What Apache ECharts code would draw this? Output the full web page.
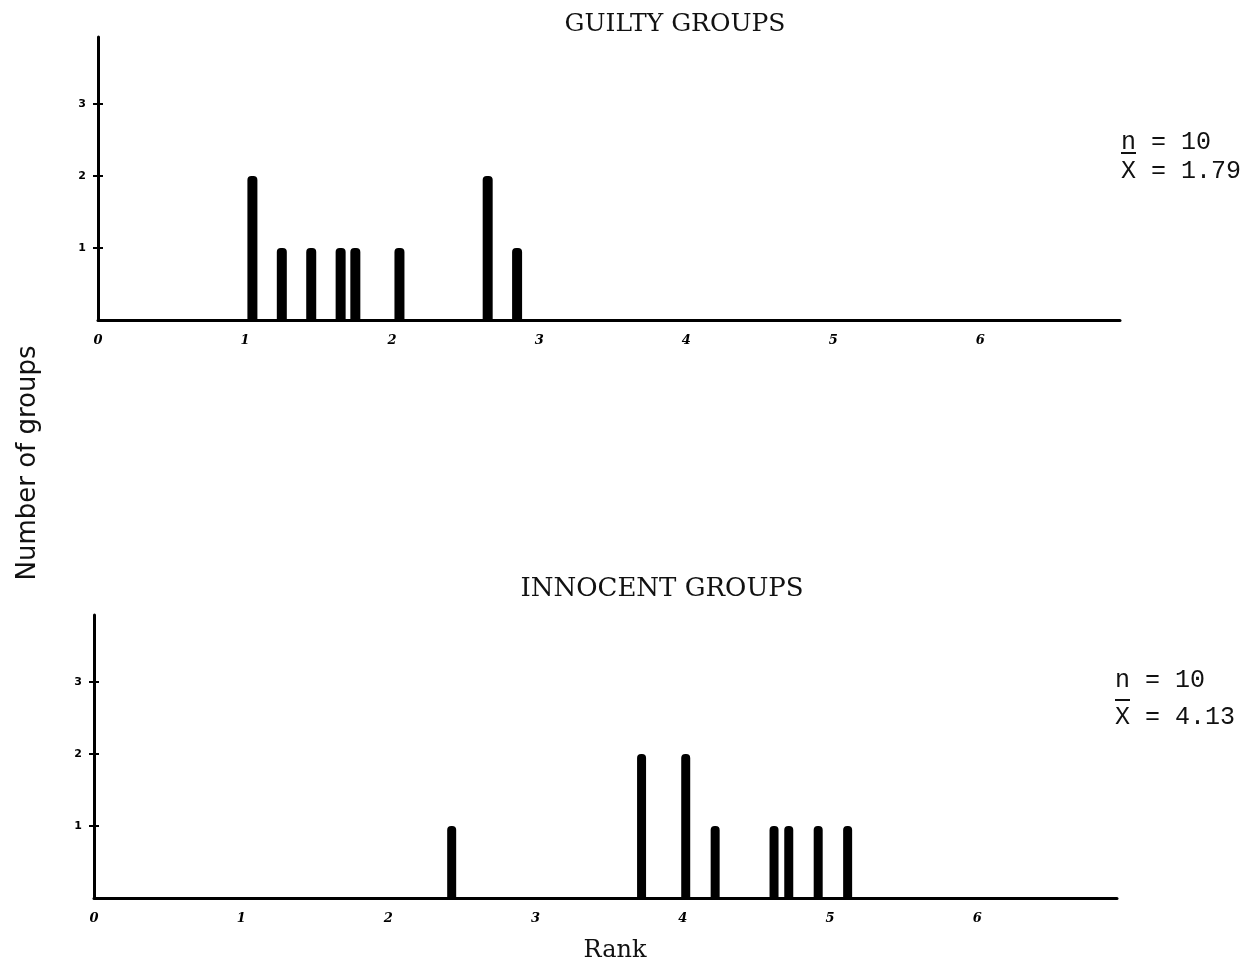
<!DOCTYPE html>
<html>
<head>
<meta charset="utf-8">
<script src="https://cdn.jsdelivr.net/npm/echarts@6/dist/echarts.min.js"></script>
<style>
html,body{margin:0;padding:0;background:#fff;}
#chart{width:1252px;height:966px;}
</style>
</head>
<body>
<div id="chart"></div>
<script>
// ---- data ----
var guiltyRanks  = [1.05, 1.25, 1.45, 1.65, 1.75, 2.05, 2.65, 2.85];
var guiltyCounts = [2, 1, 1, 1, 1, 1, 2, 1];
var innocentRanks  = [2.43, 3.72, 4.02, 4.22, 4.62, 4.72, 4.92, 5.12];
var innocentCounts = [1, 2, 2, 1, 1, 1, 1, 1];
var xTicks = [0, 1, 2, 3, 4, 5, 6];
var yTicks = [1, 2, 3];
var titles = ['GUILTY GROUPS', 'INNOCENT GROUPS'];
var statsN = ['n = 10', 'n = 10'];
var statsMean = ['X = 1.79', 'X = 4.13'];

function pairs(xs, ys){ return xs.map(function(x,i){ return [x, ys[i]]; }); }

var chart = echarts.init(document.getElementById('chart'));

function xAx(g){
  return {
    type:'value', gridIndex:g, min:0, max:6.95,
    splitLine:{show:false},
    axisLine:{show:true, onZero:false, lineStyle:{color:'#000', width:3}},
    axisTick:{show:false},
    axisLabel:{customValues:xTicks, margin:14, color:'#000', fontFamily:'DejaVu Serif',
      fontStyle:'italic', fontWeight:'bold', fontSize:13}
  };
}
function yAx(g, inside){
  return {
    type:'value', gridIndex:g, min:0, max:3.93, position:'left', offset:0,
    splitLine:{show:false},
    axisLine:{show:!inside, onZero:false, lineStyle:{color:'#000', width:3}},
    axisTick:{show:true, inside:inside, length:5, customValues:yTicks, lineStyle:{color:'#000', width:2}},
    axisLabel:{show:!inside, customValues:yTicks, margin:12, color:'#000', fontFamily:'DejaVu Sans',
      fontWeight:'bold', fontSize:11}
  };
}

var barStyle = {color:'#000', borderRadius:[4,4,0,0]};

var option = {
  backgroundColor:'#fff',
  animation:false,
  grid:[
    {left:98, top:37, width:1022, height:283},
    {left:94, top:615, width:1023, height:283}
  ],
  xAxis:[xAx(0), xAx(1)],
  yAxis:[yAx(0,false), yAx(1,false), yAx(0,true), yAx(1,true)],
  series:[
    {type:'bar', xAxisIndex:0, yAxisIndex:0, barWidth:10, itemStyle:barStyle, data:pairs(guiltyRanks, guiltyCounts)},
    {type:'bar', xAxisIndex:1, yAxisIndex:1, barWidth:9, itemStyle:barStyle, data:pairs(innocentRanks, innocentCounts)}
  ],
  graphic:[
    {type:'text', style:{text:titles[0], x:675, y:24, align:'center', verticalAlign:'middle',
      font:'25px "DejaVu Serif"', fill:'#111'}},
    {type:'text', style:{text:titles[1], x:662, y:589, align:'center', verticalAlign:'middle',
      font:'26px "DejaVu Serif"', fill:'#111'}},
    {type:'text', style:{text:'Rank', x:615, y:951, align:'center', verticalAlign:'middle',
      font:'24px "DejaVu Serif"', fill:'#111'}},
    {type:'text', rotation:Math.PI/2, x:28, y:463, style:{text:'Number of groups', x:0, y:0, align:'center', verticalAlign:'middle',
      font:'500 26px "DejaVu Sans"', fill:'#111'}},
    {type:'text', style:{text:statsN[0], x:1121, y:142, verticalAlign:'middle', font:'25px "Liberation Mono"', fill:'#111'}},
    {type:'text', style:{text:statsMean[0], x:1121, y:171, verticalAlign:'middle', font:'25px "Liberation Mono"', fill:'#111'}},
    {type:'line', shape:{x1:1121, y1:153, x2:1136, y2:153}, style:{stroke:'#111', lineWidth:2}},
    {type:'text', style:{text:statsN[1], x:1115, y:680, verticalAlign:'middle', font:'25px "Liberation Mono"', fill:'#111'}},
    {type:'text', style:{text:statsMean[1], x:1115, y:717, verticalAlign:'middle', font:'25px "Liberation Mono"', fill:'#111'}},
    {type:'line', shape:{x1:1115, y1:700, x2:1130, y2:700}, style:{stroke:'#111', lineWidth:2}}
  ]
};
chart.setOption(option);
</script>
</body>
</html>
